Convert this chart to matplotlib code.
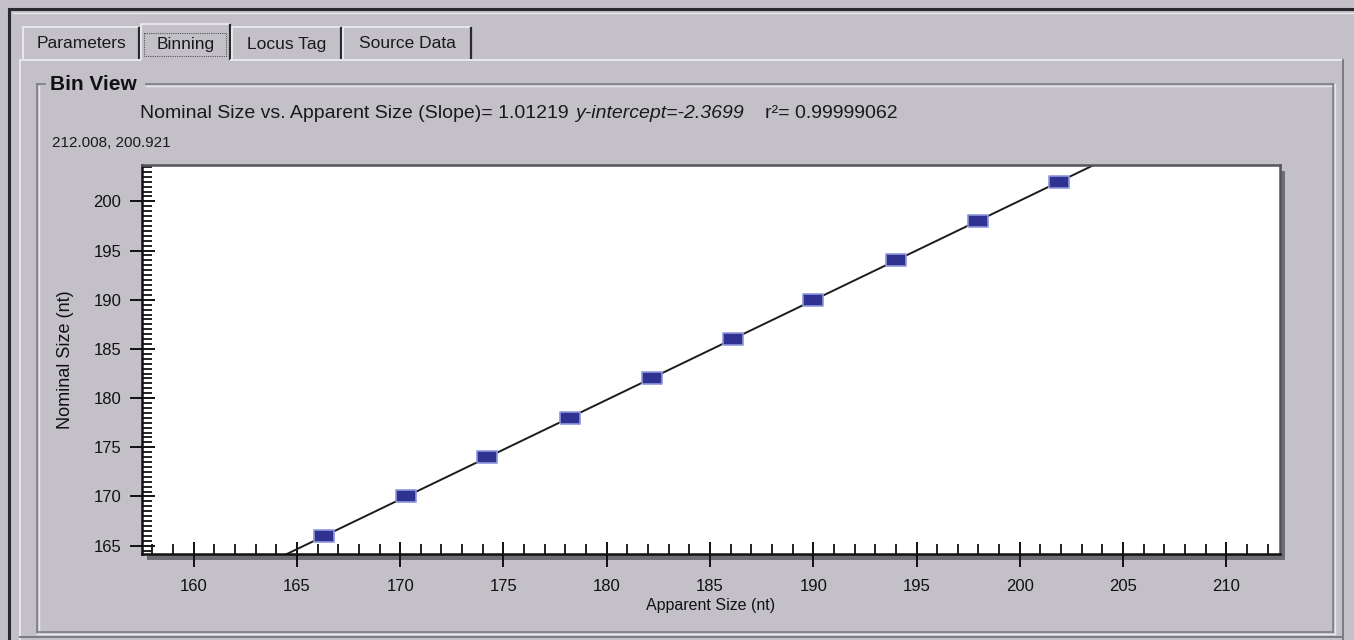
import matplotlib.pyplot as plt
from matplotlib.lines import Line2D
from matplotlib.patches import Rectangle
from matplotlib.ticker import MultipleLocator
import numpy as np

plt.rcParams['font.family'] = ['Liberation Sans', 'DejaVu Sans']

# bin calibration: apparent vs nominal size
apparent = [166.3, 170.3, 174.2, 178.2, 182.2, 186.1, 190.0, 194.0, 198.0, 201.9]
nominal = [166, 170, 174, 178, 182, 186, 190, 194, 198, 202]
slope = 1.01219
intercept = -2.3699
r2 = 0.99999062
cursor = (212.008, 200.921)
tabs = ['Parameters', 'Binning', 'Locus Tag', 'Source Data']
x_ticks = [160, 165, 170, 175, 180, 185, 190, 195, 200, 205, 210]
y_ticks = [165, 170, 175, 180, 185, 190, 195, 200]

W, H = 1354, 640
bg = '#c3c1c7'
light = '#e9e8ed'
dark = '#7c7b82'
black = '#2a2a2e'

fig = plt.figure(figsize=(W / 100, H / 100), dpi=100, facecolor=bg)


def px_line(xs, ys, color, lw=1.0, **kw):
    fig.add_artist(Line2D([x / W for x in xs], [1 - y / H for y in ys],
                          color=color, lw=lw, transform=fig.transFigure, **kw))


def px_text(x, y, s, **kw):
    fig.text(x / W, 1 - y / H, s, **kw)


# window frame
px_line([9, W], [9, 9], black, 2.2)
px_line([9, 9], [9, H], black, 2.2)
px_line([13, W], [13, 13], light, 1.0)

# tab strip
tab_x = [22, 140, 231, 342, 472]
for i, name in enumerate(tabs):
    x0, x1 = tab_x[i], tab_x[i + 1]
    top = 24 if name == 'Binning' else 27
    px_line([x0 + 1, x0 + 1, x1 - 2], [59, top, top], light, 1.4)
    px_line([x1 - 1, x1 - 1], [top + 1, 59], black, 1.6)
    px_text((x0 + x1) / 2, 44, name, fontsize=12.5, ha='center', va='center', color='#1a1a1a')
# focus rectangle on the active tab
fx0, fx1, fy0, fy1 = 144, 226, 33, 56
px_line([fx0, fx1, fx1, fx0, fx0], [fy0, fy0, fy1, fy1, fy0], '#555', 0.8, ls=(0, (1, 1)))

# tab panel
px_line([20, 140], [60, 60], light, 1.4)
px_line([231, 1343], [60, 60], light, 1.4)
px_line([20, 20], [60, H], light, 1.4)
px_line([1343, 1343], [60, H], dark, 1.4)
px_line([20, 1343], [637, 637], dark, 1.4)

# group box "Bin View"
gx0, gx1, gy0, gy1 = 37, 1333, 84, 632
px_line([gx0, 45], [gy0, gy0], dark, 1.2)
px_line([146, gx1], [gy0, gy0], dark, 1.2)
px_line([146, gx1], [gy0 + 1.5, gy0 + 1.5], light, 1.0)
px_line([gx0, gx0], [gy0, gy1], dark, 1.2)
px_line([gx0 + 1.5, gx0 + 1.5], [gy0 + 1.5, gy1], light, 1.0)
px_line([gx1, gx1], [gy0, gy1], dark, 1.2)
px_line([gx1 + 1.5, gx1 + 1.5], [gy0, gy1 + 1.5], light, 1.0)
px_line([gx0, gx1], [gy1, gy1], dark, 1.2)
px_line([gx0, gx1 + 1.5], [gy1 + 1.5, gy1 + 1.5], light, 1.0)
px_text(50, 85, 'Bin View', fontsize=15, fontweight='bold', ha='left', va='center', color='#111')

# fit summary line
px_text(140, 113, f'Nominal Size vs. Apparent Size (Slope)= {slope}',
        fontsize=14, ha='left', va='center', color='#1a1a1a')
px_text(575, 113, f'y-intercept={intercept}', fontsize=14, style='italic',
        ha='left', va='center', color='#1a1a1a')
px_text(765, 113, f'r\u00b2= {r2}', fontsize=14, ha='left', va='center', color='#1a1a1a')
px_text(52, 143, f'{cursor[0]}, {cursor[1]}', fontsize=11, ha='left', va='center', color='#1a1a1a')

# plot area with drop shadow
ax_l, ax_r, ax_t, ax_b = 142, 1280, 165, 554
fig.add_artist(Rectangle(((ax_l + 5) / W, 1 - (ax_b + 6) / H), (ax_r - ax_l) / W, (ax_b - ax_t) / H,
                         transform=fig.transFigure, facecolor='#6e6d73', edgecolor='none', zorder=-1))
ax = fig.add_axes([ax_l / W, 1 - ax_b / H, (ax_r - ax_l) / W, (ax_b - ax_t) / H])
ax.set_facecolor('white')
ax.set_xlim(157.5, 212.6)
ax.set_ylim(164.15, 203.7)

xs = np.array(ax.get_xlim())
ax.plot(xs, slope * xs + intercept, color='#1c1c1c', lw=1.4, zorder=2)

rect = [(-1.65, -1), (1.65, -1), (1.65, 1), (-1.65, 1), (-1.65, -1)]
ax.plot(apparent, nominal, ls='none', marker=rect, ms=14,
        mfc='#2f3290', mec='#8f97dc', mew=1.2, zorder=3)

ax.set_xticks(x_ticks)
ax.set_yticks(y_ticks)
ax.xaxis.set_minor_locator(MultipleLocator(1))
ax.yaxis.set_minor_locator(MultipleLocator(0.5))
ax.tick_params(axis='both', which='major', direction='inout', length=18, width=1.4,
               labelsize=12, colors='#111', top=False, right=False)
ax.tick_params(axis='both', which='minor', direction='in', length=7, width=1.3,
               colors='#111', top=False, right=False)
ax.tick_params(axis='x', which='major', pad=9)
ax.tick_params(axis='y', which='major', pad=6)

for side in ['left', 'bottom']:
    ax.spines[side].set_color('#111')
    ax.spines[side].set_linewidth(1.8)
for side in ['top', 'right']:
    ax.spines[side].set_color('#55545a')
    ax.spines[side].set_linewidth(1.8)

ax.set_xlabel('Apparent Size (nt)', fontsize=11.5, labelpad=3, color='#111')
ax.set_ylabel('Nominal Size (nt)', fontsize=13, labelpad=14, color='#111')

fig.savefig('out.png', dpi=100, facecolor=bg)
